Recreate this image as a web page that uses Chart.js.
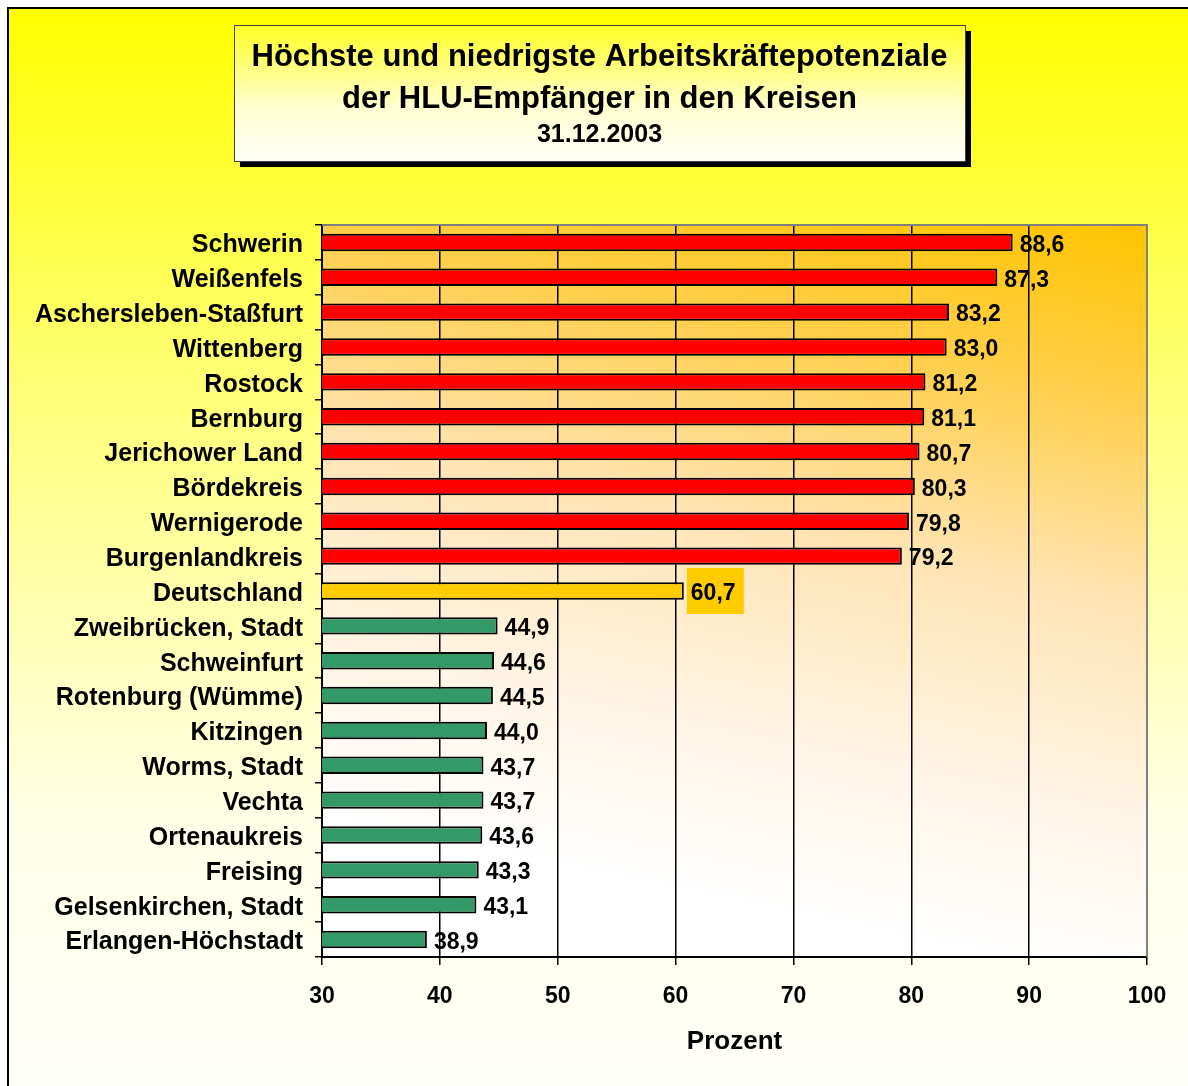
<!DOCTYPE html>
<html lang="de">
<head>
<meta charset="utf-8">
<title>Arbeitskräftepotenziale der HLU-Empfänger</title>
<script src="https://cdn.jsdelivr.net/npm/chart.js@4.4.1/dist/chart.umd.min.js"></script>
<style>
  html, body { margin: 0; padding: 0; background: #fff; }
  canvas { display: block; }
</style>
</head>
<body>
<canvas id="grafik" width="1188" height="1086"></canvas>
<script>
// Daten
const kreise = [
  'Schwerin', 'Weißenfels', 'Aschersleben-Staßfurt', 'Wittenberg', 'Rostock',
  'Bernburg', 'Jerichower Land', 'Bördekreis', 'Wernigerode', 'Burgenlandkreis',
  'Deutschland',
  'Zweibrücken, Stadt', 'Schweinfurt', 'Rotenburg (Wümme)', 'Kitzingen', 'Worms, Stadt',
  'Vechta', 'Ortenaukreis', 'Freising', 'Gelsenkirchen, Stadt', 'Erlangen-Höchstadt'
];
const prozent = [
  88.6, 87.3, 83.2, 83.0, 81.2, 81.1, 80.7, 80.3, 79.8, 79.2,
  60.7,
  44.9, 44.6, 44.5, 44.0, 43.7, 43.7, 43.6, 43.3, 43.1, 38.9
];
const xTicks = [30, 40, 50, 60, 70, 80, 90, 100];
const titelZeilen = ['Höchste und niedrigste Arbeitskräftepotenziale', 'der HLU-Empfänger in den Kreisen'];
const datum = '31.12.2003';
const achsenTitel = 'Prozent';

const SCHRIFT = "'Liberation Sans', Arial, sans-serif";
const idxD = kreise.indexOf('Deutschland');

// rot = hoechste, gelb = Deutschland, gruen = niedrigste
const farben = kreise.map((k, i) => i === idxD ? '#FFCC00' : (i < idxD ? '#FF0000' : '#339966'));

const fmt = v => v.toFixed(1).replace('.', ',');

// Hintergrund, Titelkasten, Plotflaeche
const hintergrund = {
  id: 'hintergrund',
  beforeDraw(chart) {
    const { ctx, width, height, chartArea: a } = chart;
    ctx.save();
    ctx.fillStyle = '#fff';
    ctx.fillRect(0, 0, width, height);

    let g = ctx.createLinearGradient(0, 8, 0, height);
    g.addColorStop(0, '#FFFF00');
    g.addColorStop(0.35, '#FFFF77');
    g.addColorStop(0.75, '#FFFFE6');
    g.addColorStop(1, '#FFFFFA');
    ctx.fillStyle = g;
    ctx.fillRect(8, 8, width - 8, height - 8);
    ctx.strokeStyle = '#000';
    ctx.lineWidth = 2;
    ctx.beginPath();
    ctx.moveTo(8, height);
    ctx.lineTo(8, 8);
    ctx.lineTo(width, 8);
    ctx.stroke();

    // Titelkasten mit Schatten
    const bx = 234, by = 25, bw = 731, bh = 136;
    ctx.fillStyle = '#000';
    ctx.fillRect(bx + 6, by + 6, bw, bh);
    g = ctx.createLinearGradient(0, by, 0, by + bh);
    g.addColorStop(0, '#FFFF22');
    g.addColorStop(0.6, '#FFFFD0');
    g.addColorStop(1, '#FFFFF8');
    ctx.fillStyle = g;
    ctx.fillRect(bx, by, bw, bh);
    ctx.strokeStyle = '#444';
    ctx.lineWidth = 1;
    ctx.strokeRect(bx + 0.5, by + 0.5, bw, bh);

    ctx.fillStyle = '#000';
    ctx.textAlign = 'center';
    ctx.textBaseline = 'middle';
    ctx.font = 'bold 31px ' + SCHRIFT;
    ctx.fillText(titelZeilen[0], bx + bw / 2, 57);
    ctx.fillText(titelZeilen[1], bx + bw / 2, 99);
    ctx.font = 'bold 25px ' + SCHRIFT;
    ctx.fillText(datum, bx + bw / 2, 135);

    // Plotflaeche
    g = ctx.createLinearGradient(a.right, a.top, a.right - 150, a.bottom);
    g.addColorStop(0, '#FFC400');
    g.addColorStop(0.25, '#FFD050');
    g.addColorStop(0.5, '#FFE4B4');
    g.addColorStop(0.78, '#FFF5E6');
    g.addColorStop(1, '#FFFFFF');
    ctx.fillStyle = g;
    ctx.fillRect(a.left, a.top, a.right - a.left, a.bottom - a.top);
    ctx.restore();
  },
  afterDraw(chart) {
    const { ctx, chartArea: a } = chart;
    ctx.save();
    ctx.strokeStyle = '#808080';
    ctx.lineWidth = 2;
    ctx.beginPath();
    ctx.moveTo(a.left, a.top);
    ctx.lineTo(a.right, a.top);
    ctx.lineTo(a.right, a.bottom);
    ctx.stroke();
    ctx.restore();
  }
};

// Werte rechts neben den Balken
const werte = {
  id: 'werte',
  afterDatasetsDraw(chart) {
    const { ctx } = chart;
    const meta = chart.getDatasetMeta(0);
    ctx.save();
    ctx.font = 'bold 23px ' + SCHRIFT;
    ctx.textBaseline = 'middle';
    ctx.textAlign = 'left';
    meta.data.forEach((bar, i) => {
      const txt = fmt(prozent[i]);
      if (i === idxD) {
        ctx.fillStyle = '#FFCC00';
        ctx.fillRect(bar.x + 3, bar.y - 23, 57, 46);
      }
      ctx.fillStyle = '#000';
      ctx.fillText(txt, bar.x + 7, bar.y + 3);
    });
    ctx.restore();
  }
};

new Chart(document.getElementById('grafik'), {
  type: 'bar',
  data: {
    labels: kreise,
    datasets: [{
      data: prozent,
      backgroundColor: farben,
      borderColor: '#000',
      borderWidth: 2,
      borderSkipped: false,
      barPercentage: 0.5,
      categoryPercentage: 1
    }]
  },
  options: {
    indexAxis: 'y',
    responsive: false,
    animation: false,
    layout: { padding: { top: 225, right: 41, left: 0, bottom: 0 } },
    plugins: {
      legend: { display: false },
      tooltip: { enabled: false }
    },
    scales: {
      x: {
        min: 30,
        max: 100,
        afterBuildTicks: s => { s.ticks = xTicks.map(v => ({ value: v })); },
        afterFit: s => { s.height = 129; },
        grid: {
          color: c => c.tick && c.tick.value === 100 ? '#808080' : '#000',
          lineWidth: 1.5,
          tickLength: 8,
          tickColor: '#000'
        },
        border: { color: '#000', width: 2 },
        ticks: {
          color: '#000',
          padding: 18,
          font: { family: SCHRIFT, size: 23, weight: 'bold' }
        },
        title: {
          display: true,
          text: achsenTitel,
          color: '#000',
          padding: { top: 0, bottom: 29 },
          font: { family: SCHRIFT, size: 26, weight: 'bold' }
        }
      },
      y: {
        afterFit: s => { s.width = 322; },
        grid: {
          drawOnChartArea: false,
          tickLength: 7,
          tickColor: '#000',
          lineWidth: 1.5,
          offset: true
        },
        border: { color: '#000', width: 2 },
        ticks: {
          color: '#000',
          padding: 12,
          labelOffset: 3,
          autoSkip: false,
          font: { family: SCHRIFT, size: 25, weight: 'bold' }
        }
      }
    }
  },
  plugins: [hintergrund, werte]
});
</script>
</body>
</html>
